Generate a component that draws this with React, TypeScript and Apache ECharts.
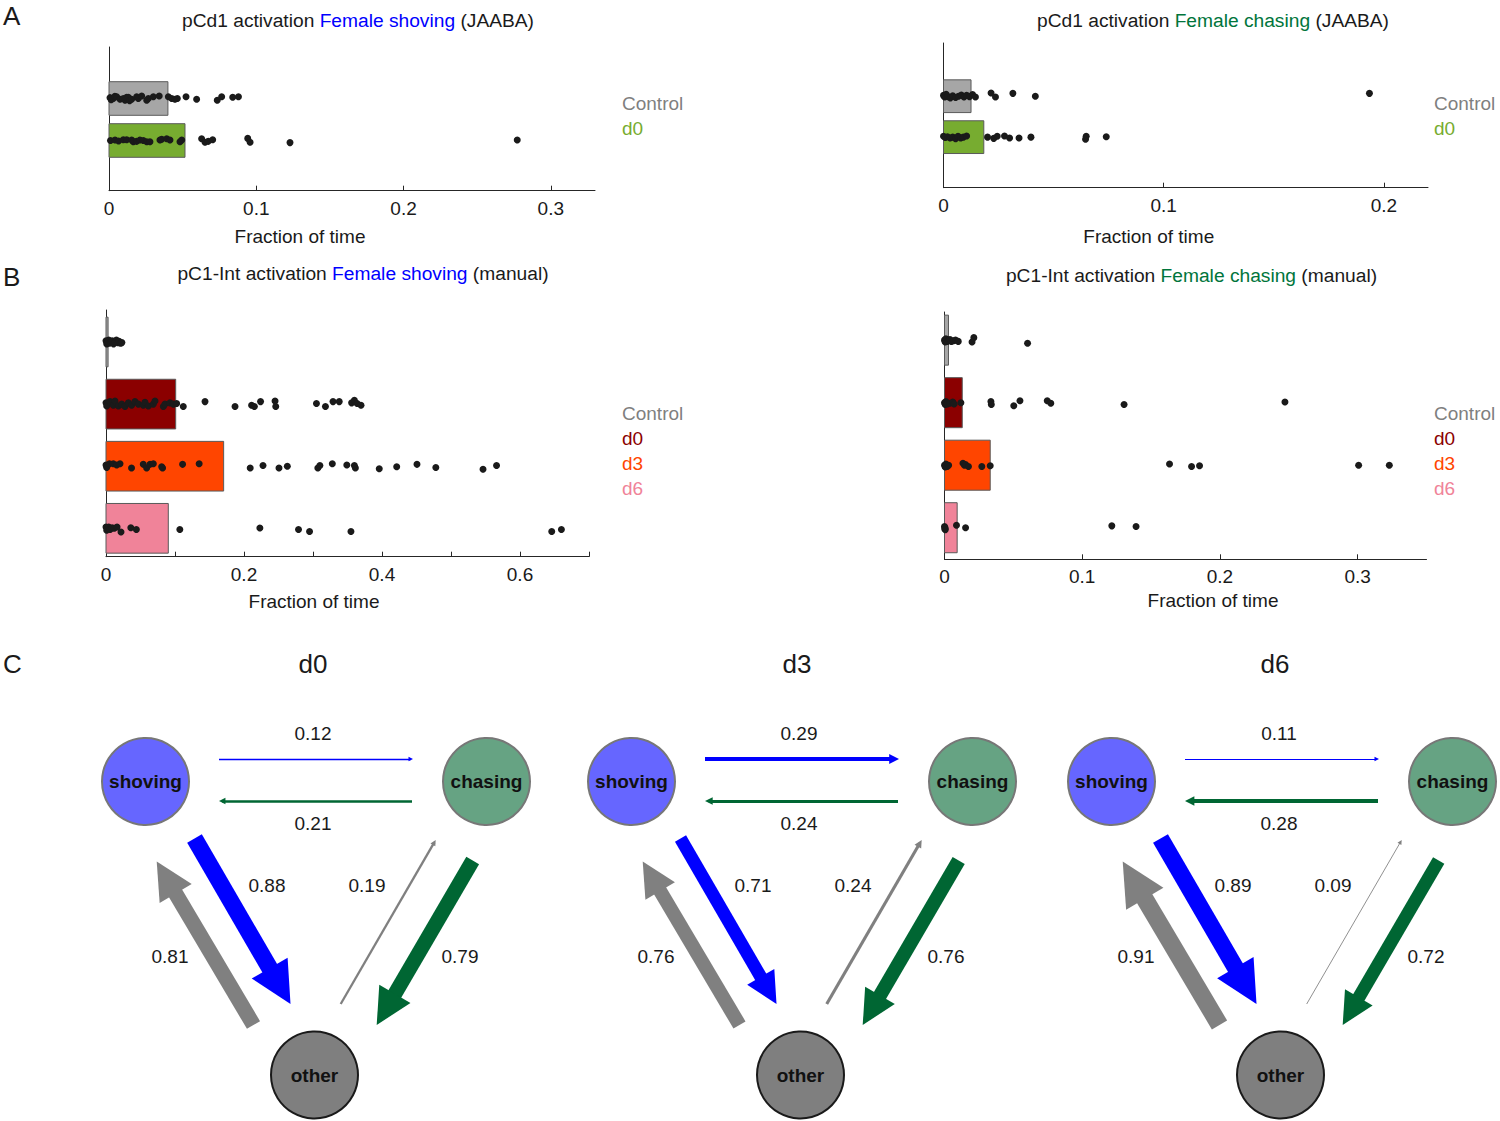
import React, { useEffect, useRef } from 'react';
import * as echarts from 'echarts';

const FONT = '"Liberation Sans", Arial, Helvetica, sans-serif';

// ---------------- Panel A (pCd1 activation, JAABA) ----------------
const groupsA = ['Control', 'd0'];
const shovingA_means = [0.040, 0.0516];
const chasingA_means = [0.0125, 0.0183];
// points: [fraction of time, vertical jitter in row units]
const shovingA_control: [number, number][] = [
  [0.0007, -0.02], [0.0015, 0.03], [0.0029, 0.0], [0.004, -0.05], [0.0052, -0.04], [0.0075, 0.02],
  [0.0097, 0.0], [0.0109, 0.04], [0.012, -0.03], [0.0131, -0.03], [0.014, 0.05], [0.0154, 0.02],
  [0.0188, -0.04], [0.0199, 0.0], [0.0222, -0.06], [0.0256, 0.04], [0.0267, 0.0], [0.0301, -0.04],
  [0.0341, -0.06], [0.0403, -0.04], [0.0426, 0.0], [0.0448, 0.02], [0.0464, 0.0], [0.0523, -0.04],
  [0.0595, 0.02], [0.0735, 0.04], [0.0765, -0.04], [0.084, -0.03], [0.0879, -0.04],
];
const shovingA_d0: [number, number][] = [
  [0.001, 0.0], [0.0041, -0.01], [0.0065, 0.01], [0.0097, -0.02], [0.012, -0.02], [0.0154, -0.01],
  [0.0165, 0.03], [0.0188, 0.02], [0.021, -0.01], [0.0233, 0.0], [0.0256, 0.03], [0.0278, 0.03],
  [0.0346, -0.01], [0.0358, -0.03], [0.0392, -0.04], [0.0414, -0.01], [0.0482, 0.03], [0.0494, -0.01],
  [0.0629, -0.04], [0.0652, 0.04], [0.0674, 0.02], [0.0704, -0.02], [0.0942, -0.05], [0.0958, 0.04],
  [0.1229, 0.05], [0.2772, -0.01],
];
const chasingA_control: [number, number][] = [
  [0, -0.02], [0.0005, 0.02], [0.0012, -0.05], [0.002, 0.01], [0.0031, 0.04], [0.0042, -0.01],
  [0.0055, 0.03], [0.0068, 0.0], [0.0081, -0.03], [0.0093, 0.02], [0.0105, -0.02], [0.0118, 0.01],
  [0.0132, -0.04], [0.0145, 0.02], [0.0216, -0.08], [0.0236, 0.02], [0.0315, -0.07], [0.0417, 0.0],
  [0.1934, -0.07],
];
const chasingA_d0: [number, number][] = [
  [0, -0.02], [0.0008, 0.01], [0.0018, -0.01], [0.003, 0.02], [0.0042, 0.0], [0.0055, 0.04],
  [0.0066, -0.02], [0.0078, 0.02], [0.009, 0.0], [0.0105, -0.03], [0.02, 0.0], [0.0228, 0.03],
  [0.0244, -0.02], [0.0277, -0.03], [0.03, 0.02], [0.0343, 0.02], [0.0397, 0.0], [0.0645, 0.05],
  [0.0648, -0.02], [0.0739, -0.01],
];

// ---------------- Panel B (pC1-Int activation, manual) ----------------
const groupsB = ['Control', 'd0', 'd3', 'd6'];
const shovingB_means = [0.003, 0.101, 0.1705, 0.0903];
const chasingB_means = [0.0029, 0.0129, 0.0332, 0.0092];
const shovingB_control: [number, number][] = [
  [0, -0.02], [0.001, 0.03], [0.002, 0.0], [0.004, -0.03], [0.005, 0.02], [0.007, 0.0], [0.009, -0.02],
  [0.011, 0.03], [0.013, 0.0], [0.015, -0.03], [0.017, 0.01], [0.019, -0.01], [0.021, 0.02], [0.023, 0.01],
];
const shovingB_d0: [number, number][] = [
  [0, -0.02], [0.001, 0.03], [0.0058, -0.04], [0.0106, 0.02], [0.013, -0.05], [0.0179, 0.03],
  [0.0227, 0.0], [0.0275, 0.04], [0.0324, -0.02], [0.0372, 0.02], [0.042, -0.04], [0.0469, 0.0],
  [0.054, 0.02], [0.0565, -0.03], [0.0614, 0.03], [0.0686, 0.0], [0.071, -0.05], [0.0831, 0.04],
  [0.0855, 0.0], [0.0928, -0.02], [0.0976, 0.0], [0.1024, -0.01], [0.112, 0.04], [0.1435, -0.04],
  [0.187, 0.04], [0.211, 0.02], [0.215, 0.04], [0.224, -0.04], [0.245, -0.05], [0.246, 0.04],
  [0.305, -0.01], [0.318, 0.04], [0.329, -0.04], [0.338, -0.04], [0.356, -0.02], [0.36, -0.06],
  [0.364, -0.01], [0.3696, 0.02],
];
const shovingB_d3: [number, number][] = [
  [0, -0.02], [0.001, 0.02], [0.005, -0.04], [0.0106, -0.04], [0.0155, -0.02], [0.0203, -0.04],
  [0.037, 0.03], [0.054, -0.03], [0.0589, 0.03], [0.0638, -0.03], [0.0686, -0.04], [0.0807, 0.01],
  [0.082, 0.03], [0.111, -0.03], [0.135, -0.04], [0.209, 0.03], [0.2275, -0.01], [0.2507, 0.03],
  [0.2628, 0.0], [0.307, 0.03], [0.31, -0.01], [0.328, -0.04], [0.349, -0.02], [0.36, -0.01],
  [0.3614, 0.03], [0.396, 0.04], [0.4213, 0.01], [0.4507, -0.03], [0.478, 0.02], [0.5464, 0.05],
  [0.566, -0.01],
];
const shovingB_d6: [number, number][] = [
  [0, -0.02], [0.001, 0.03], [0.002, 0.0], [0.004, -0.02], [0.006, 0.02], [0.009, -0.01], [0.012, 0.0],
  [0.016, -0.02], [0.0217, 0.06], [0.036, -0.01], [0.044, 0.02], [0.107, 0.02], [0.223, -0.005],
  [0.279, 0.02], [0.295, 0.05], [0.355, 0.05], [0.646, 0.05], [0.66, 0.02],
];
const chasingB_control: [number, number][] = [
  [0, 0.0], [0.0005, 0.03], [0.001, -0.02], [0.002, 0.02], [0.003, 0.0], [0.004, -0.01], [0.005, 0.02],
  [0.0065, 0.01], [0.008, 0.0], [0.01, 0.02], [0.02, 0.03], [0.0213, -0.04], [0.0603, 0.05],
];
const chasingB_d0: [number, number][] = [
  [0, 0.0], [0.0005, 0.03], [0.001, -0.02], [0.002, 0.02], [0.004, 0.01], [0.006, -0.01], [0.007, 0.02],
  [0.0119, 0.0], [0.0337, -0.02], [0.034, 0.03], [0.0503, 0.05], [0.0548, -0.03], [0.0746, -0.03],
  [0.0772, 0.01], [0.1304, 0.03], [0.2472, -0.01],
];
const chasingB_d3: [number, number][] = [
  [0, 0.0], [0.0005, 0.03], [0.001, -0.02], [0.002, 0.02], [0.003, 0.0], [0.0134, -0.03], [0.0145, 0.0],
  [0.0153, -0.01], [0.0174, 0.02], [0.0271, 0.02], [0.0332, 0.01], [0.1634, -0.02], [0.1794, 0.02],
  [0.1852, 0.01], [0.3007, 0.0], [0.323, 0.0],
];
const chasingB_d6: [number, number][] = [
  [0, -0.02], [0.0002, 0.02], [0.0004, 0.0], [0.0006, 0.03], [0.0087, -0.04], [0.0153, 0.0],
  [0.1215, -0.03], [0.1391, -0.02],
];

// ---------------- Panel C (transition probabilities) ----------------
const diagramDays = ['d0', 'd3', 'd6'];
const stateNames = ['shoving', 'chasing', 'other'];
const pShovToChase = [0.12, 0.29, 0.11];
const pChaseToShov = [0.21, 0.24, 0.28];
const pShovToOther = [0.88, 0.71, 0.89];
const pOtherToChase = [0.19, 0.24, 0.09];
const pOtherToShov = [0.81, 0.76, 0.91];
const pChaseToOther = [0.79, 0.76, 0.72];

// ---------------- styles / layout ----------------
const INK = '#1a1a1a';
const AXIS = '#262626';
const BLUE = '#0000FF';
const DKGREEN = '#006633';
const TITLE_GREEN = '#00753B';
const ARROW_GRAY = '#808080';
const barColorsA = ['#A6A6A6', '#77AC30'];
const barColorsB = ['#A6A6A6', '#8B0000', '#FF4500', '#F08399'];
const legendColorsA = ['#7F7F7F', '#77AC30'];
const legendColorsB = ['#7F7F7F', '#8B0000', '#FF4500', '#F08399'];
const nodeFill = ['#6666FF', '#66A383', '#7F7F7F'];
const nodeBorder = ['#777777', '#777777', '#1a1a1a'];

const fmt = (v: number) => (v === 0 ? '0' : String(parseFloat(v.toFixed(2))));

function buildOption() {
  const panels = [
    { left: 109, top: 47, width: 486, height: 143.7, max: 0.33, lo: -1.226, hi: 2.195,
      ticks: [0, 0.1, 0.2, 0.3], labels: [0, 0.1, 0.2, 0.3], means: shovingA_means,
      pts: [shovingA_control, shovingA_d0], colors: barColorsA, namePad: [0, 104, 0, 0], nameGap: 36 },
    { left: 943.5, top: 43, width: 484.5, height: 144.7, max: 0.22, lo: -1.3, hi: 2.235,
      ticks: [0, 0.1, 0.2], labels: [0, 0.1, 0.2], means: chasingA_means,
      pts: [chasingA_control, chasingA_d0], colors: barColorsA, namePad: [0, 74, 0, 0], nameGap: 39 },
    { left: 106, top: 310, width: 483, height: 246.7, max: 0.7, lo: -0.515, hi: 3.457,
      ticks: [0, 0.1, 0.2, 0.3, 0.4, 0.5, 0.6, 0.7], labels: [0, 0.2, 0.4, 0.6], means: shovingB_means,
      pts: [shovingB_control, shovingB_d0, shovingB_d3, shovingB_d6], colors: barColorsB,
      namePad: [0, 67, 0, 0], nameGap: 35 },
    { left: 944.5, top: 312, width: 482, height: 247.3, max: 0.35, lo: -0.45, hi: 3.505,
      ticks: [0, 0.1, 0.2, 0.3], labels: [0, 0.1, 0.2, 0.3], means: chasingB_means,
      pts: [chasingB_control, chasingB_d0, chasingB_d3, chasingB_d6], colors: barColorsB,
      namePad: [0, 0, 0, 55], nameGap: 32 },
  ];

  const grid: any[] = [];
  const xAxis: any[] = [];
  const yAxis: any[] = [];
  const series: any[] = [];

  panels.forEach((p, i) => {
    grid.push({ left: p.left, top: p.top, width: p.width, height: p.height, containLabel: false });
    xAxis.push({
      gridIndex: i, type: 'value', min: 0, max: p.max, interval: 0.1,
      axisLine: { show: true, onZero: false, lineStyle: { color: AXIS, width: 1 } },
      axisTick: { show: true, inside: true, length: 5, customValues: p.ticks, lineStyle: { color: AXIS } },
      axisLabel: {
        customValues: p.labels, color: INK, fontSize: 19, fontFamily: FONT, margin: 8,
        formatter: (v: number) => (p.labels.some((l) => Math.abs(l - v) < 1e-6) ? fmt(v) : ''),
      },
      splitLine: { show: false },
      name: 'Fraction of time', nameLocation: 'middle', nameGap: p.nameGap,
      nameTextStyle: { color: INK, fontSize: 19, fontFamily: FONT, padding: p.namePad },
    });
    yAxis.push({
      gridIndex: i, type: 'value', inverse: true, min: p.lo, max: p.hi,
      axisLine: { show: true, onZero: false, lineStyle: { color: AXIS, width: 1 } },
      axisTick: { show: false }, axisLabel: { show: false }, splitLine: { show: false },
    });
    const colors = p.colors;
    series.push({
      type: 'custom', xAxisIndex: i, yAxisIndex: i, silent: true, z: 2,
      encode: { x: 0, y: 1 },
      data: p.means.map((m, k) => [m, k]),
      renderItem: (params: any, api: any) => {
        const v = api.value(0);
        const k = api.value(1);
        const a = api.coord([0, k - 0.4]);
        const b = api.coord([v, k + 0.4]);
        return {
          type: 'rect',
          shape: { x: a[0], y: Math.min(a[1], b[1]), width: Math.max(b[0] - a[0], 1), height: Math.abs(b[1] - a[1]) },
          style: { fill: colors[params.dataIndex], stroke: '#5a5a5a', lineWidth: 1 },
        };
      },
    });
    p.pts.forEach((pts, k) => {
      series.push({
        type: 'scatter', xAxisIndex: i, yAxisIndex: i, silent: true, z: 3,
        symbolSize: 7, itemStyle: { color: INK, opacity: 1 },
        data: pts.map(([v, j]) => [v, k + j]),
      });
    });
  });

  // pixel grid for the state diagrams
  grid.push({ left: 0, top: 0, width: 1500, height: 1121, containLabel: false });
  xAxis.push({ gridIndex: 4, type: 'value', min: 0, max: 1500, show: false });
  yAxis.push({ gridIndex: 4, type: 'value', min: 0, max: 1121, inverse: true, show: false });

  const DIAG_DX = [0, 486, 966];
  const nodePos = [[145.5, 781.5], [486.5, 781.5], [314.5, 1075]];
  const arrowDefs = [
    { p: pShovToChase, color: BLUE, s: [219, 759], t: [413, 759], label: [313, 733] },
    { p: pChaseToShov, color: DKGREEN, s: [412, 801], t: [219, 801], label: [313, 823] },
    { p: pShovToOther, color: BLUE, s: [194.5, 838.5], t: [290.5, 1004], label: [267, 885] },
    { p: pOtherToChase, color: ARROW_GRAY, s: [340.7, 1004], t: [435.7, 840], label: [367, 885] },
    { p: pOtherToShov, color: ARROW_GRAY, s: [253.5, 1025], t: [156.7, 861.5], label: [170, 956] },
    { p: pChaseToOther, color: DKGREEN, s: [472.7, 860.5], t: [376.7, 1025], label: [460, 956] },
  ];

  const graphic: any[] = [];
  const text = (x: number, y: number, t: string, fill: string, size: number, align = 'center', weight = 'normal') => ({
    type: 'text', x, y, silent: true, z: 10,
    style: { text: t, fill, fontSize: size, fontFamily: FONT, fontWeight: weight, align, verticalAlign: 'middle' },
  });

  diagramDays.forEach((day, d) => {
    const dx = DIAG_DX[d];
    const nodes: any[] = stateNames.map((nm, n) => ({
      name: `${day}-${nm}`, value: [nodePos[n][0] + dx, nodePos[n][1]],
      symbol: 'circle', symbolSize: 87,
      itemStyle: { color: nodeFill[n], borderColor: nodeBorder[n], borderWidth: 2 },
      label: { show: true, position: 'inside', formatter: nm, color: '#111', fontSize: 19, fontWeight: 'bold', fontFamily: FONT },
    }));
    const links: any[] = [];
    arrowDefs.forEach((a, ai) => {
      const p = a.p[d];
      const lw = 20 * Math.pow(p, 1.3);
      const head = Math.max(2.45 * lw, 4.5);
      const sx = a.s[0] + dx, sy = a.s[1];
      const tx = a.t[0] + dx, ty = a.t[1];
      const L = Math.hypot(tx - sx, ty - sy);
      const ux = (tx - sx) / L, uy = (ty - sy) / L;
      const ex = tx - ux * head / 2, ey = ty - uy * head / 2;
      const i0 = nodes.length;
      nodes.push({ name: `${day}-a${ai}-s`, value: [sx, sy], symbol: 'none', symbolSize: 0, label: { show: false } });
      nodes.push({ name: `${day}-a${ai}-e`, value: [ex, ey], symbol: 'none', symbolSize: 0, label: { show: false } });
      links.push({
        source: i0, target: i0 + 1,
        symbol: ['none', 'triangle'], symbolSize: [0, head],
        lineStyle: { color: a.color, width: lw, opacity: 1, curveness: 0, cap: 'butt' },
      });
      graphic.push(text(a.label[0] + dx, a.label[1], p.toFixed(2), INK, 19));
    });
    series.push({
      type: 'graph', coordinateSystem: 'cartesian2d', xAxisIndex: 4, yAxisIndex: 4,
      layout: 'none', silent: true, z: 4, roam: false,
      edgeSymbol: ['none', 'triangle'],
      lineStyle: { opacity: 1, curveness: 0 },
      emphasis: { disabled: true },
      data: nodes, links,
    });
    graphic.push(text([313, 797, 1275][d], 664, day, INK, 26));
  });

  // panel letters
  graphic.push(text(3, 16, 'A', INK, 26, 'left'));
  graphic.push(text(3, 277, 'B', INK, 26, 'left'));
  graphic.push(text(3, 664, 'C', INK, 26, 'left'));

  // titles
  const titles = [
    { x: 358, y: 20, parts: ['pCd1 activation ', 'Female shoving', ' (JAABA)'], c: BLUE },
    { x: 1213, y: 20, parts: ['pCd1 activation ', 'Female chasing', ' (JAABA)'], c: TITLE_GREEN },
    { x: 363, y: 273, parts: ['pC1-Int activation ', 'Female shoving', ' (manual)'], c: BLUE },
    { x: 1191.5, y: 275, parts: ['pC1-Int activation ', 'Female chasing', ' (manual)'], c: TITLE_GREEN },
  ];
  titles.forEach((t) => {
    graphic.push({
      type: 'text', x: t.x, y: t.y, silent: true, z: 10,
      style: {
        text: `{k|${t.parts[0]}}{c|${t.parts[1]}}{k|${t.parts[2]}}`,
        align: 'center', verticalAlign: 'middle',
        fontSize: 19.2, fontFamily: FONT,
        rich: {
          k: { fill: INK, fontSize: 19.2, fontFamily: FONT },
          c: { fill: t.c, fontSize: 19.2, fontFamily: FONT },
        },
      },
    });
  });

  // group legends
  const legends = [
    { x: 622, y: 103, names: groupsA, colors: legendColorsA },
    { x: 1434, y: 103, names: groupsA, colors: legendColorsA },
    { x: 622, y: 413, names: groupsB, colors: legendColorsB },
    { x: 1434, y: 413, names: groupsB, colors: legendColorsB },
  ];
  legends.forEach((lg) => {
    lg.names.forEach((nm, k) => graphic.push(text(lg.x, lg.y + k * 25, nm, lg.colors[k], 19, 'left')));
  });

  return {
    animation: false,
    backgroundColor: '#ffffff',
    textStyle: { fontFamily: FONT },
    grid, xAxis, yAxis, series, graphic,
  };
}

export default function App() {
  const ref = useRef<HTMLDivElement>(null);
  useEffect(() => {
    if (!ref.current) return;
    const chart = echarts.init(ref.current, null, { renderer: 'svg' });
    chart.setOption(buildOption() as any);
    return () => chart.dispose();
  }, []);
  return (
    <div
      ref={ref}
      style={{ position: 'absolute', left: 0, top: 0, width: 1500, height: 1121, background: '#fff' }}
    />
  );
}
